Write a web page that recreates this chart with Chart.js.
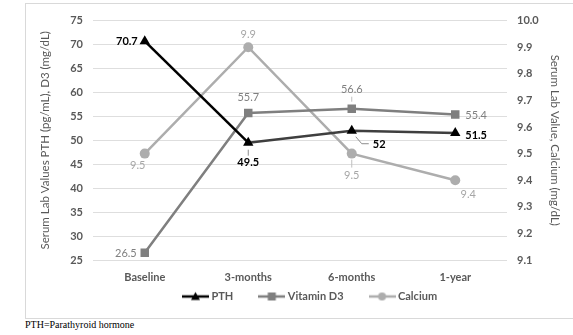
<!DOCTYPE html>
<html>
<head>
<meta charset="utf-8">
<script src="https://cdn.jsdelivr.net/npm/chart.js@4.4.1/dist/chart.umd.min.js"></script>
<style>
  html, body { margin: 0; padding: 0; background: #ffffff; width: 573px; height: 335px; overflow: hidden; }
  #frame { position: absolute; left: 25px; top: 3px; width: 560px; height: 314px; border: 1px solid #d9d9d9; box-sizing: content-box; }
  #wrap { position: absolute; left: 26px; top: 4px; width: 547px; height: 313px; }
  #note { position: absolute; left: 25px; top: 319px; font-family: "Liberation Serif", "DejaVu Serif", serif; font-size: 10px; color: #000; }
</style>
</head>
<body>
<div id="frame"></div>
<div id="wrap"><canvas id="chart" width="547" height="313"></canvas></div>
<div id="note">PTH=Parathyroid hormone</div>
<script>
// Follow-up time points
const categories = ['Baseline', '3-months', '6-months', '1-year'];

// Serum values per time point
const pthValues = [70.7, 49.5, 52, 51.5];          // pg/mL, left axis
const vitaminD3Values = [26.5, 55.7, 56.6, 55.4];  // mg/dL, left axis
const calciumValues = [9.5, 9.9, 9.5, 9.4];        // mg/dL, right axis

// Axis tick ranges: [min, max, step]
const leftAxisTicks = [25, 75, 5];
const rightAxisTicks = [9.1, 10.0, 0.1];

const FONT = 'Lato, "Open Sans", "Liberation Sans", sans-serif';
const TEXT_GREY = '#595959';

// Value label placement per point: dx, dy, text alignment, optional leader line
const labelPlacement = {
  pth: [
    { dx: -7, dy: 0, align: 'right' },
    { dx: 0, dy: 20, align: 'center', leader: [[0, 7], [0, 13]] },
    { dx: 21, dy: 14, align: 'left', leader: [[4, 6], [10, 13], [17, 13]] },
    { dx: 10, dy: 2, align: 'left' }
  ],
  d3: [
    { dx: -8, dy: 1, align: 'right' },
    { dx: 0, dy: -16, align: 'center' },
    { dx: 0, dy: -19, align: 'center', leader: [[0, -7], [0, -12]] },
    { dx: 10, dy: 1, align: 'left' }
  ],
  ca: [
    { dx: -7, dy: 12, align: 'center' },
    { dx: 0, dy: -13, align: 'center' },
    { dx: 0, dy: 22, align: 'center', leader: [[0, 6], [0, 14]] },
    { dx: 13, dy: 14, align: 'center' }
  ]
};

// Legend swatch: short line with the series marker in the middle
function swatch(color, style) {
  const c = document.createElement('canvas');
  c.width = 27; c.height = 12;
  const g = c.getContext('2d');
  g.strokeStyle = color; g.lineWidth = 2.5;
  g.beginPath(); g.moveTo(0, 6); g.lineTo(27, 6); g.stroke();
  g.fillStyle = color;
  if (style === 'triangle') {
    g.beginPath(); g.moveTo(13.5, 1.5); g.lineTo(18, 9.5); g.lineTo(9, 9.5); g.closePath(); g.fill();
  } else if (style === 'rect') {
    g.fillRect(9.5, 2, 8, 8);
  } else {
    g.beginPath(); g.arc(13.5, 6, 4, 0, Math.PI * 2); g.fill();
  }
  return c;
}

const valueLabels = {
  id: 'valueLabels',
  afterDatasetsDraw(chart) {
    const ctx = chart.ctx;
    chart.data.datasets.forEach((ds, i) => {
      const meta = chart.getDatasetMeta(i);
      const place = labelPlacement[ds.key];
      meta.data.forEach((pt, j) => {
        const p = place[j];
        const v = ds.data[j];
        ctx.save();
        if (p.leader) {
          ctx.strokeStyle = ds.labelColor === '#000000' ? '#8c8c8c' : '#bfbfbf';
          ctx.lineWidth = 1;
          ctx.beginPath();
          p.leader.forEach((q, k) => {
            const x = pt.x + q[0], y = pt.y + q[1];
            if (k === 0) ctx.moveTo(x, y); else ctx.lineTo(x, y);
          });
          ctx.stroke();
        }
        ctx.fillStyle = ds.labelColor;
        ctx.font = ds.labelWeight + ' 11px ' + FONT;
        ctx.textAlign = p.align;
        ctx.textBaseline = 'middle';
        const txt = ds.key === 'ca' ? v.toFixed(1) : String(v);
        ctx.fillText(txt, pt.x + p.dx, pt.y + p.dy);
        ctx.restore();
      });
    });
  }
};

// Keep the legend band compact while leaving wide gaps between entries
const LEGEND_LIFT = 21;
const LEGEND_SHIFT = 11.5;
const legendBand = {
  id: 'legendBand',
  beforeInit(chart) {
    const lg = chart.legend;
    if (!lg) return;
    const fit = lg.fit;
    lg.fit = function () { fit.call(this); this.height = 33; };
    const inner = lg._draw;
    lg._draw = function () {
      this.ctx.save();
      this.ctx.translate(LEGEND_SHIFT, -LEGEND_LIFT);
      inner.call(this);
      this.ctx.restore();
    };
  }
};

new Chart(document.getElementById('chart'), {
  type: 'line',
  data: {
    labels: categories,
    datasets: [
      {
        key: 'pth',
        label: 'PTH',
        data: pthValues,
        yAxisID: 'yLeft',
        borderColor: '#000000',
        backgroundColor: '#000000',
        borderWidth: 2.5,
        segment: { borderColor: c => c.p0DataIndex === 0 ? '#000000' : '#3f3f3f' },
        pointStyle: 'triangle',
        pointRadius: 6,
        pointBorderWidth: 0,
        labelColor: '#000000',
        labelWeight: 'bold',
        legendImage: swatch('#000000', 'triangle'),
        tension: 0
      },
      {
        key: 'd3',
        label: 'Vitamin D3',
        data: vitaminD3Values,
        yAxisID: 'yLeft',
        borderColor: '#7f7f7f',
        backgroundColor: '#7f7f7f',
        borderWidth: 2.5,
        pointStyle: 'rect',
        pointRadius: 6,
        pointBorderWidth: 0,
        labelColor: '#808080',
        labelWeight: 'normal',
        legendImage: swatch('#7f7f7f', 'rect'),
        tension: 0
      },
      {
        key: 'ca',
        label: 'Calcium',
        data: calciumValues,
        yAxisID: 'yRight',
        borderColor: '#adadad',
        backgroundColor: '#adadad',
        borderWidth: 2.5,
        pointStyle: 'circle',
        pointRadius: 5,
        pointBorderWidth: 0,
        labelColor: '#a6a6a6',
        labelWeight: 'normal',
        legendImage: swatch('#adadad', 'circle'),
        tension: 0
      }
    ]
  },
  options: {
    responsive: false,
    animation: false,
    layout: { padding: { top: 16, bottom: 0, left: 0, right: 0 } },
    plugins: {
      tooltip: { enabled: false },
      legend: {
        position: 'bottom',
        labels: {
          usePointStyle: true,
          pointStyleWidth: 21,
          padding: 28,
          color: TEXT_GREY,
          font: { family: FONT, size: 11, weight: 'bold' },
          generateLabels(chart) {
            return chart.data.datasets.map((ds, i) => ({
              text: ds.label,
              pointStyle: ds.legendImage,
              fillStyle: ds.borderColor,
              strokeStyle: ds.borderColor,
              lineWidth: 0,
              hidden: false,
              datasetIndex: i,
              fontColor: TEXT_GREY
            }));
          }
        }
      }
    },
    scales: {
      x: {
        offset: true,
        grid: { display: false, drawTicks: false, offset: true },
        border: { display: false },
        ticks: { padding: 11, color: TEXT_GREY, font: { family: FONT, size: 11, weight: 'bold' } },
        afterFit(scale) { scale.height = 24; }
      },
      yLeft: {
        position: 'left',
        min: leftAxisTicks[0],
        max: leftAxisTicks[1],
        ticks: { stepSize: leftAxisTicks[2], padding: 10, color: TEXT_GREY, font: { family: FONT, size: 11, weight: 'bold' } },
        grid: { display: true, drawOnChartArea: true, color: '#dedede', lineWidth: 1, drawTicks: false },
        border: { display: false },
        title: {
          display: true,
          text: 'Serum Lab Values PTH (pg/mL), D3 (mg/dL)',
          color: TEXT_GREY,
          font: { family: FONT, size: 11.5 },
          padding: { top: 12, bottom: 0 }
        },
        afterFit(scale) { scale.width = 67; }
      },
      yRight: {
        position: 'right',
        min: rightAxisTicks[0],
        max: rightAxisTicks[1],
        ticks: {
          stepSize: rightAxisTicks[2],
          padding: 10,
          color: TEXT_GREY,
          font: { family: FONT, size: 11, weight: 'bold' },
          callback: v => Number(v).toFixed(1)
        },
        grid: { display: false, drawTicks: false },
        border: { display: false },
        title: {
          display: true,
          text: 'Serum Lab Value, Calcium (mg/dL)',
          color: TEXT_GREY,
          font: { family: FONT, size: 11.5 },
          padding: { top: 11, bottom: 0 }
        },
        afterFit(scale) { scale.width = 66; }
      }
    }
  },
  plugins: [legendBand, valueLabels]
});
</script>
</body>
</html>
